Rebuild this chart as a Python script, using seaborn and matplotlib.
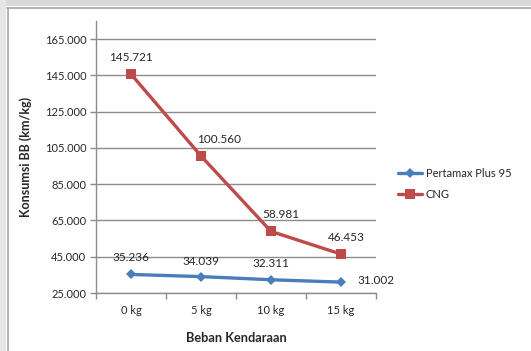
import matplotlib
matplotlib.use("Agg")
import matplotlib.pyplot as plt
from matplotlib.patches import Rectangle
from matplotlib.lines import Line2D
import seaborn as sns
import pandas as pd
import numpy as np

# Fuel consumption per load
loads = ["0 kg", "5 kg", "10 kg", "15 kg"]
pertamax = [35.236, 34.039, 32.311, 31.002]
cng = [145.721, 100.560, 58.981, 46.453]
series_names = ["Pertamax Plus 95", "CNG"]
y_ticks = [25, 45, 65, 85, 105, 125, 145, 165]

sns.set_theme(style="white")
plt.rcParams["font.family"] = ["Lato", "DejaVu Sans"]

BLUE = "#4A7EBB"
RED = "#BE4B48"
GRID = "#8C8C8C"

df = pd.DataFrame({
    "load": loads * 2,
    "value": pertamax + cng,
    "series": [series_names[0]] * 4 + [series_names[1]] * 4,
})
df["pos"] = list(range(len(loads))) * 2

fig = plt.figure(figsize=(5.31, 3.51), dpi=100)

# page background strips and chart frame
fig.patches.append(Rectangle((0, 1 - 6 / 351), 1, 6 / 351, transform=fig.transFigure,
                             facecolor="#D9D9D9", edgecolor="none", zorder=0))
fig.patches.append(Rectangle((0, 0), 6 / 531, 1, transform=fig.transFigure,
                             facecolor="#E6E6E6", edgecolor="none", zorder=0))
fig.lines.append(Line2D([7 / 531, 1], [1 - 7.5 / 351, 1 - 7.5 / 351], transform=fig.transFigure,
                        color="#A6A6A6", lw=1.2))
fig.lines.append(Line2D([7.5 / 531, 7.5 / 531], [0, 1 - 7.5 / 351], transform=fig.transFigure,
                        color="#A6A6A6", lw=1.2))

ax = fig.add_axes([96 / 531, 1 - 293 / 351, 280 / 531, 272 / 351])

sns.lineplot(data=df, x="pos", y="value", hue="series", style="series",
             palette={series_names[0]: BLUE, series_names[1]: RED},
             markers={series_names[0]: "D", series_names[1]: "s"},
             dashes=False, linewidth=2.4, markersize=7.5, markeredgewidth=0,
             ax=ax, legend=False, zorder=3)
# diamond a bit smaller than square
for line in ax.lines:
    if line.get_marker() == "D":
        line.set_markersize(5.5)

ax.set_xlim(-0.5, 3.5)
ax.set_ylim(25, 175)
ax.set_yticks(y_ticks)
ax.set_yticklabels([f"{v:.3f}" for v in y_ticks], fontsize=8, color="#262626")
ax.set_xticks(range(len(loads)))
ax.set_xticklabels(loads, fontsize=8, color="#262626")
ax.set_xticks(np.arange(-0.5, 4.0, 1.0), minor=True)
ax.tick_params(axis="x", which="major", length=0, pad=9)
ax.tick_params(axis="x", which="minor", length=4, width=1, color=GRID, direction="out", bottom=True)
ax.tick_params(axis="y", which="major", length=4, width=1, color=GRID, direction="out", left=True, pad=3)

ax.grid(axis="y", color=GRID, lw=1)
ax.set_axisbelow(True)
for side in ["top", "right"]:
    ax.spines[side].set_visible(False)
for side in ["left", "bottom"]:
    ax.spines[side].set_color(GRID)
    ax.spines[side].set_linewidth(1)

ax.set_xlabel("Beban Kendaraan", fontsize=9.2, fontweight="bold", labelpad=11)
ax.set_ylabel("Konsumsi BB (km/kg)", fontsize=9, fontweight="bold", labelpad=9)

# data labels
blue_offsets = [(0, 12), (0, 11), (0, 12), (12, 1)]
red_offsets = [(0, 12), (13, 12), (7, 12), (4, 12)]
for i, v in enumerate(pertamax):
    dx, dy = blue_offsets[i]
    ax.annotate(f"{v:.3f}", (i, v), xytext=(dx, dy), textcoords="offset points",
                ha="left" if dx > 8 else "center", va="center", fontsize=8.5, color="#262626")
for i, v in enumerate(cng):
    dx, dy = red_offsets[i]
    ax.annotate(f"{v:.3f}", (i, v), xytext=(dx, dy), textcoords="offset points",
                ha="center", va="center", fontsize=8.5, color="#262626")

handles = [
    Line2D([], [], color=BLUE, lw=2.4, marker="D", markersize=5.5, markeredgewidth=0),
    Line2D([], [], color=RED, lw=2.4, marker="s", markersize=7.5, markeredgewidth=0),
]
fig.legend(handles, series_names, loc="upper left", bbox_to_anchor=(388 / 531, 1 - 158 / 351),
           frameon=False, fontsize=8, handlelength=2.2, handletextpad=0.3, labelspacing=0.9,
           labelcolor="#262626")

fig.savefig("out.png", dpi=100, facecolor="white")
